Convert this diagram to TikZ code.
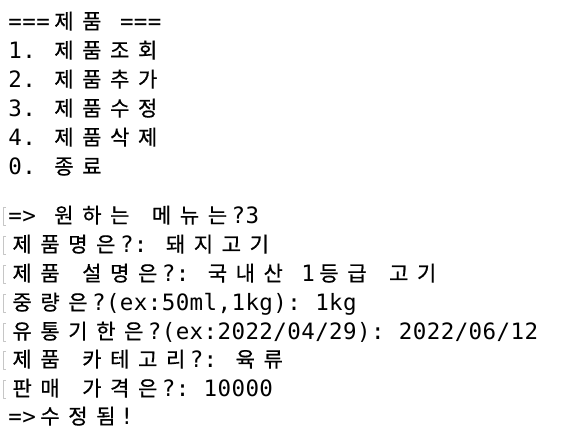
\documentclass[tikz,border=0pt]{standalone}
\usepackage{fontspec}
\setmonofont{DejaVu Sans Mono}
\newfontfamily\kr[FakeBold=0.6]{Noto Sans CJK KR}
% terminal cell: one for a letter, two for a Hangul syllable, ~ = blank cell
\newdimen\cw \cw=13.95pt
\def\tline#1{\tlloop#1\relax}
\def\tlloop#1{\ifx#1\relax\else
	\ifx#1~\hbox to\cw{}\else
	\ifnum`#1>255 \hbox to2\cw{\hss{\kr\fontsize{21}{21}\selectfont#1}\hss}\else\hbox to\cw{\hss#1\hss}\fi\fi
	\expandafter\tlloop\fi}
\begin{document}
\begin{tikzpicture}[x=1pt, y=-1pt, line join=round, line cap=round,
	term/.style={anchor=base west, inner sep=0pt, font=\ttfamily\fontsize{22.5}{22.5}\selectfont}]
	\def\xo{8}
	\useasboundingbox[fill=white] (0,0) rectangle (580,440);
	% menu
	\node[term] (l0) at (\xo,29) {\tline{===제품~===}};
	\node[term] (l1) at (\xo,58) {\tline{1.~제품조회}};
	\node[term] (l2) at (\xo,87) {\tline{2.~제품추가}};
	\node[term] (l3) at (\xo,116) {\tline{3.~제품수정}};
	\node[term] (l4) at (\xo,145) {\tline{4.~제품삭제}};
	\node[term] (l5) at (\xo,174) {\tline{0.~종료}};
	% input
	\node[term] (l7) at (\xo,223) {\tline{=>~원하는~메뉴는?3}};
	\node[term] (l8) at (\xo,252) {\tline{제품명은?:~돼지고기}};
	\node[term] (l9) at (\xo,281) {\tline{제품~설명은?:~국내산~1등급~고기}};
	\node[term] (l10) at (\xo,310) {\tline{중량은?(ex:50ml,1kg):~1kg}};
	\node[term] (l11) at (\xo,339) {\tline{유통기한은?(ex:2022/04/29):~2022/06/12}};
	\node[term] (l12) at (\xo,367) {\tline{제품~카테고리?:~육류}};
	\node[term] (l13) at (\xo,396) {\tline{판매~가격은?:~10000}};
	\node[term] (l14) at (\xo,424) {\tline{=>수정됨!}};
	% prompt marks
	\foreach \y in {216,245,274,303,332,360,389}
	\draw[gray!45, line width=1pt, line cap=butt] (6,\y-9)--(3,\y-9)--(3,\y+9)--(6,\y+9);
\end{tikzpicture}
\end{document}
